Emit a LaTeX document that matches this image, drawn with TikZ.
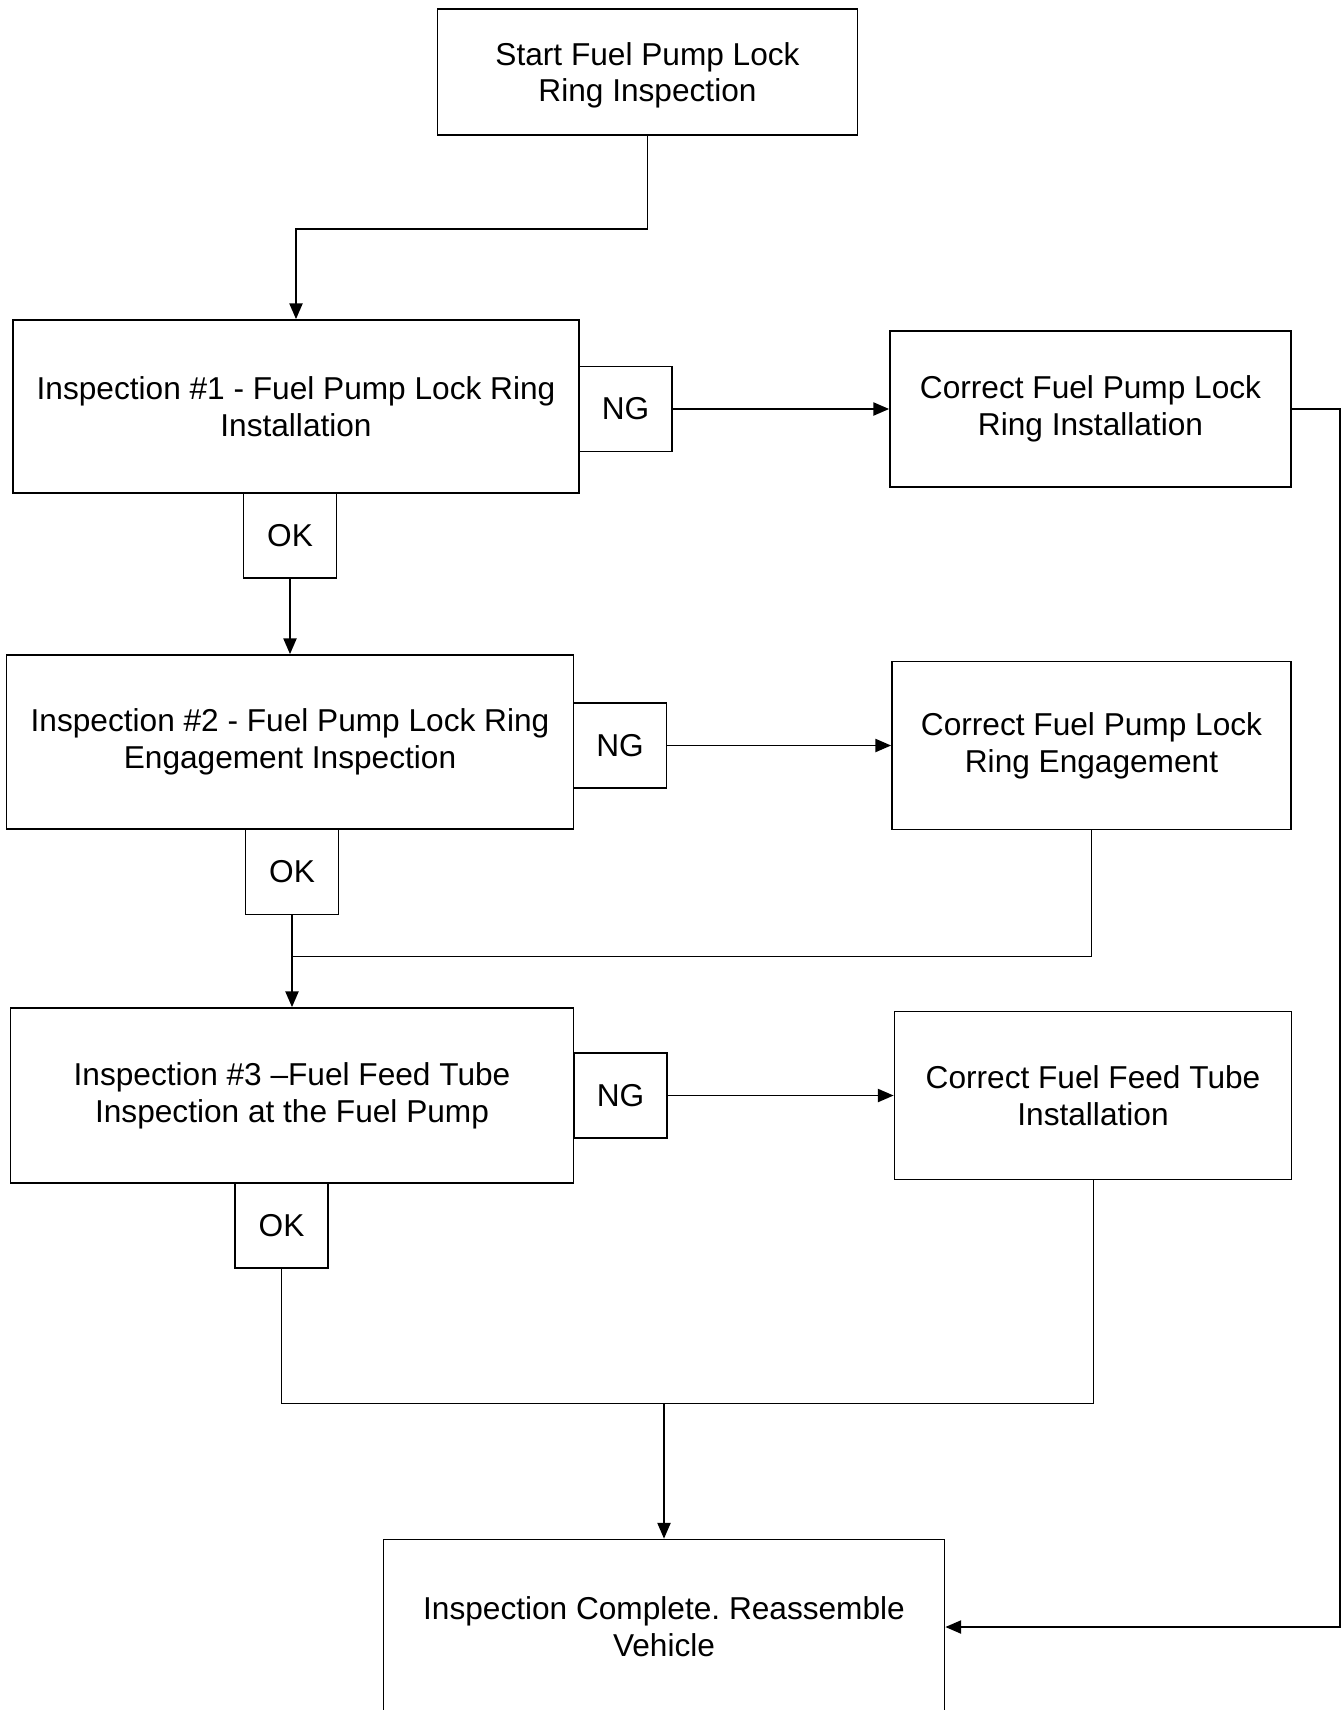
\documentclass[tikz,border=0pt]{standalone}
\usepackage{fontspec}
\setmainfont{Liberation Sans}
\usetikzlibrary{arrows.meta}

\begin{document}
\begin{tikzpicture}[
			box/.style={rectangle, draw, line width=1pt, inner sep=0pt, align=center, font=\fontsize{18}{21}\selectfont},
			tag/.style={rectangle, draw, line width=1pt, inner sep=0pt, minimum width=1.86cm, minimum height=1.7cm, font=\fontsize{18}{21}\selectfont},
			arrow/.style={-{Triangle[length=9pt,width=7.5pt]}, line width=1pt}
		]
		\useasboundingbox (0,0) rectangle (26.86,-34.2);

		% Start
		\node[box, minimum width=8.4cm, minimum height=2.53cm, text depth=-0.12cm] (start) at (12.95,-1.44) {Start Fuel Pump Lock\\Ring Inspection};

		% Inspection 1
		\node[box, minimum width=11.32cm, minimum height=3.46cm] (insp1) at (5.92,-8.13) {Inspection \#1 - Fuel Pump Lock Ring\\Installation};
		\node[tag] (ng1) at (12.51,-8.18) {NG};
		\node[box, minimum width=8.02cm, minimum height=3.12cm] (corr1) at (21.81,-8.18) {Correct Fuel Pump Lock\\Ring Installation};
		\node[tag] (ok1) at (5.80,-10.71) {OK};

		\draw[arrow] (start.south) -- ++(0,-1.86) -| (insp1.north);
		\draw[arrow] (ng1) -- (corr1);

		% Inspection 2
		\node[box, minimum width=11.34cm, minimum height=3.48cm] (insp2) at (5.80,-14.84) {Inspection \#2 - Fuel Pump Lock Ring\\Engagement Inspection};
		\node[tag] (ng2) at (12.40,-14.91) {NG};
		\node[box, minimum width=7.98cm, minimum height=3.36cm] (corr2) at (21.83,-14.91) {Correct Fuel Pump Lock\\Ring Engagement};
		\node[tag] (ok2) at (5.84,-17.44) {OK};

		\draw[arrow] (ok1.south) -- (insp2.north);
		\draw[arrow] (ng2) -- (corr2);

		% Inspection 3
		\node[box, minimum width=11.26cm, minimum height=3.5cm] (insp3) at (5.84,-21.91) {Inspection \#3 –Fuel Feed Tube\\Inspection at the Fuel Pump};
		\node[tag] (ng3) at (12.41,-21.91) {NG};
		\node[box, minimum width=7.94cm, minimum height=3.36cm] (corr3) at (21.86,-21.91) {Correct Fuel Feed Tube\\Installation};
		\node[tag] (ok3) at (5.63,-24.51) {OK};

		\coordinate (join1) at (5.84,-19.12);
		\draw (corr2.south) |- (join1);
		\draw[arrow] (ok2.south) -- (insp3.north);
		\draw[arrow] (ng3) -- (corr3);

		% Complete
		\node[box, minimum width=11.22cm, minimum height=3.5cm] (final) at (13.28,-32.54) {Inspection Complete.\ Reassemble\\Vehicle};

		\coordinate (join2) at (13.28,-28.06);
		\coordinate (rim) at (26.8,0);
		\draw (ok3.south) |- (corr3.south |- join2) -- (corr3.south);
		\draw[arrow] (join2) -- (final.north);
		\draw[arrow] (corr1.east) -- (corr1.east -| rim) |- (final.east);

	\end{tikzpicture}
\end{document}
